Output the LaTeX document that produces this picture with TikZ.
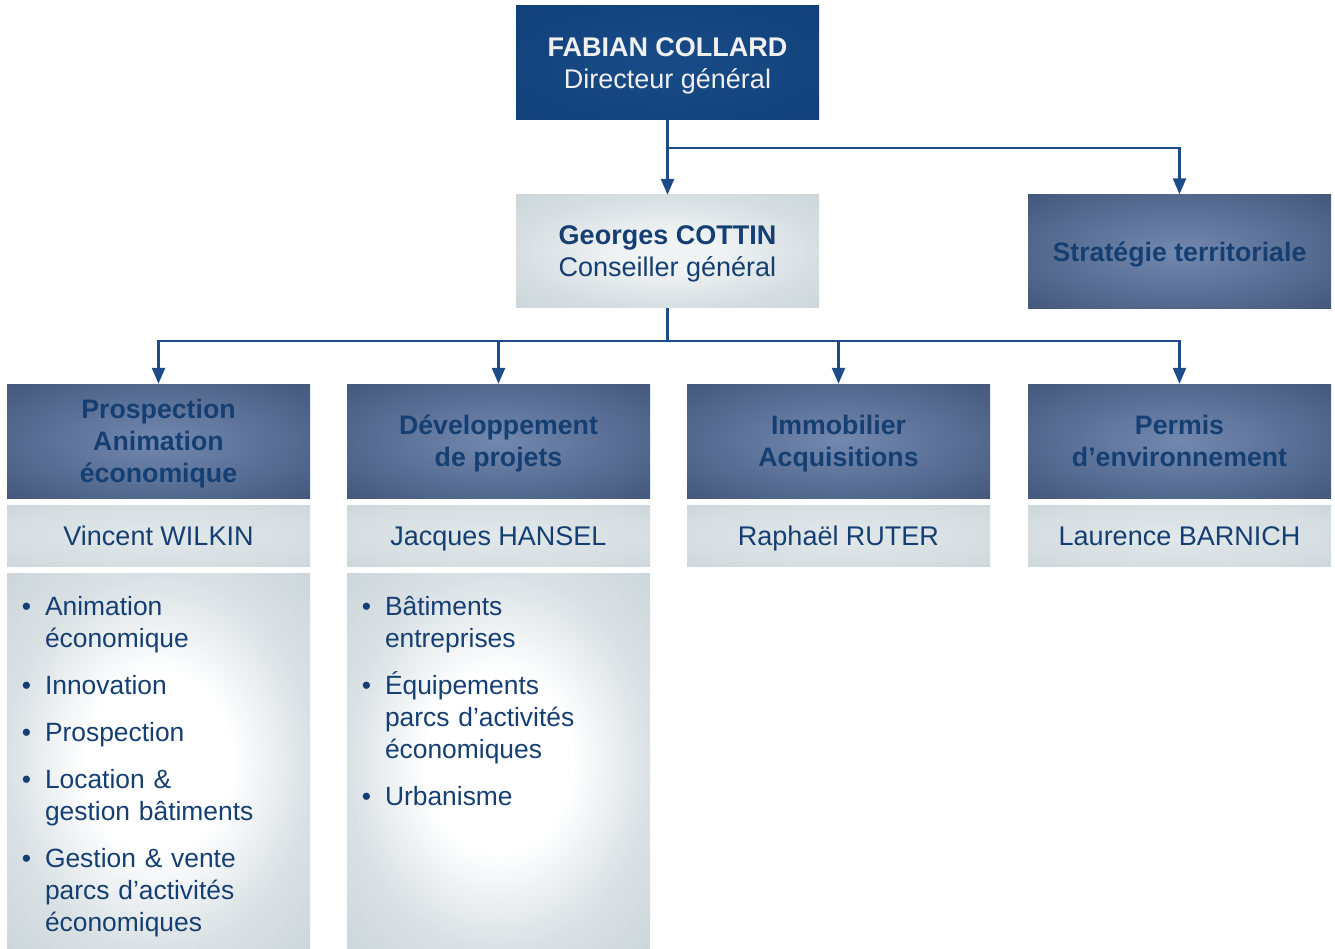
\documentclass[tikz,border=0pt]{standalone}
\usepackage{fontspec}
\setmainfont{Liberation Sans}
\usepackage{tikz}
\usetikzlibrary{arrows.meta,positioning}
\definecolor{navy}{HTML}{11407A}
\definecolor{navyin}{HTML}{194C87}
\definecolor{ink}{HTML}{153F73}
\definecolor{linkc}{HTML}{1D4C88}
\definecolor{midin}{HTML}{7388AF}
\definecolor{midedge}{HTML}{52678C}
\definecolor{midout}{HTML}{43577B}
\definecolor{palein}{HTML}{F0F3F4}
\definecolor{paleedge}{HTML}{D6DEE1}
\definecolor{paleout}{HTML}{CCD6DA}
\definecolor{namein}{HTML}{E2E8EA}
\definecolor{listedge}{HTML}{DAE1E4}
\pgfdeclareradialshading{navyglow}{\pgfpointorigin}{color(0bp)=(navyin); color(36bp)=(navy); color(50bp)=(navy)}
\pgfdeclareradialshading{midglow}{\pgfpointorigin}{color(0bp)=(midin); color(25bp)=(midedge); color(36bp)=(midout); color(50bp)=(midout)}
\pgfdeclareradialshading{paleglow}{\pgfpointorigin}{color(0bp)=(palein); color(8bp)=(palein); color(25bp)=(paleedge); color(36bp)=(paleout); color(50bp)=(paleout)}
\pgfdeclareradialshading{nameglow}{\pgfpointorigin}{color(0bp)=(namein); color(25bp)=(paleedge); color(36bp)=(paleout); color(50bp)=(paleout)}
\pgfdeclareradialshading{listglow}{\pgfpointorigin}{color(0bp)=(white); color(12bp)=(white); color(25bp)=(listedge); color(36bp)=(paleout); color(50bp)=(paleout)}
\newenvironment{tasks}{\begin{list}{\textbullet}{\setlength\leftmargin{26pt}\setlength\labelwidth{10pt}\setlength\labelsep{14pt}\setlength\itemsep{15pt}\setlength\parsep{0pt}\setlength\topsep{0pt}}}{\end{list}}

\begin{document}
\begin{tikzpicture}[x=1pt,y=-1pt,
  every node/.style={font=\fontsize{27}{32}\selectfont,inner sep=0pt},
  box/.style={rectangle,minimum width=303pt,align=center,shade},
  topbox/.style={box,minimum height=114pt,shading=navyglow,text=white!94!black,text depth=0pt},
  lightbox/.style={box,minimum height=113pt,shading=paleglow,text=ink,text depth=0pt},
  midbox/.style={box,minimum height=114pt,shading=midglow,text=ink,text depth=0pt,font=\fontsize{26.7}{32}\selectfont\bfseries},
  namebox/.style={box,minimum height=61pt,shading=nameglow,text=ink,text height=24pt,text depth=5pt},
  listbox/.style={box,minimum height=376pt,shading=listglow},
  tasklist/.style={text=ink,text width=270pt,align=left,anchor=north west,font=\fontsize{26.4}{32}\selectfont},
  arr/.style={draw=linkc,line width=2.5pt,-{Triangle[length=16pt,width=13pt]}}]
  \useasboundingbox (0,0) rectangle (1335,949);
  % top level
  \node[topbox] (dg) at (667.5,63) {\textbf{FABIAN COLLARD}\\Directeur général};
  \node[lightbox] (cg) at (667.5,251.5) {\textbf{Georges COTTIN}\\Conseiller général};
  \node[midbox] (strat) at (1179.5,251.5) {Stratégie territoriale};
  % departments
  \node[midbox] (pros) at (158.5,441) {Prospection\\Animation\\économique};
  \node[midbox] (dev) at (498.5,441) {Développement\\de projets};
  \node[midbox] (immo) at (838.5,441) {Immobilier\\Acquisitions};
  \node[midbox] (perm) at (1179.5,441) {Permis\\d’environnement};
  \node[namebox,below=7pt of pros] (wilkin) {Vincent WILKIN};
  \node[namebox,below=7pt of dev] (hansel) {Jacques HANSEL};
  \node[namebox,below=7pt of immo] (ruter) {Raphaël RUTER};
  \node[namebox,below=7pt of perm] (barnich) {Laurence BARNICH};
  \node[listbox,below=7pt of wilkin] (tasksA) {};
  \node[listbox,below=7pt of hansel] (tasksB) {};
  \node[tasklist] (listA) at ([xshift=12pt,yshift=-10pt]tasksA.north west) {%
    \begin{tasks}
      \item Animation\\économique
      \item Innovation
      \item Prospection
      \item Location \&\\gestion bâtiments
      \item Gestion \& vente\\parcs d’activités\\économiques
    \end{tasks}};
  \node[tasklist] (listB) at ([xshift=12pt,yshift=-10pt]tasksB.north west) {%
    \begin{tasks}
      \item Bâtiments\\entreprises
      \item Équipements\\parcs d’activités\\économiques
      \item Urbanisme
    \end{tasks}};
  % links
  \coordinate (j1) at (667.5,148);
  \coordinate (j2) at (667.5,341);
  \draw[arr] (dg) -- (cg);
  \draw[arr] (j1) -| (strat);
  \draw[draw=linkc,line width=2.5pt] (cg) -- (j2);
  \foreach \d in {pros,dev,immo,perm}
    \draw[arr] (j2) -| (\d);
\end{tikzpicture}
\end{document}
